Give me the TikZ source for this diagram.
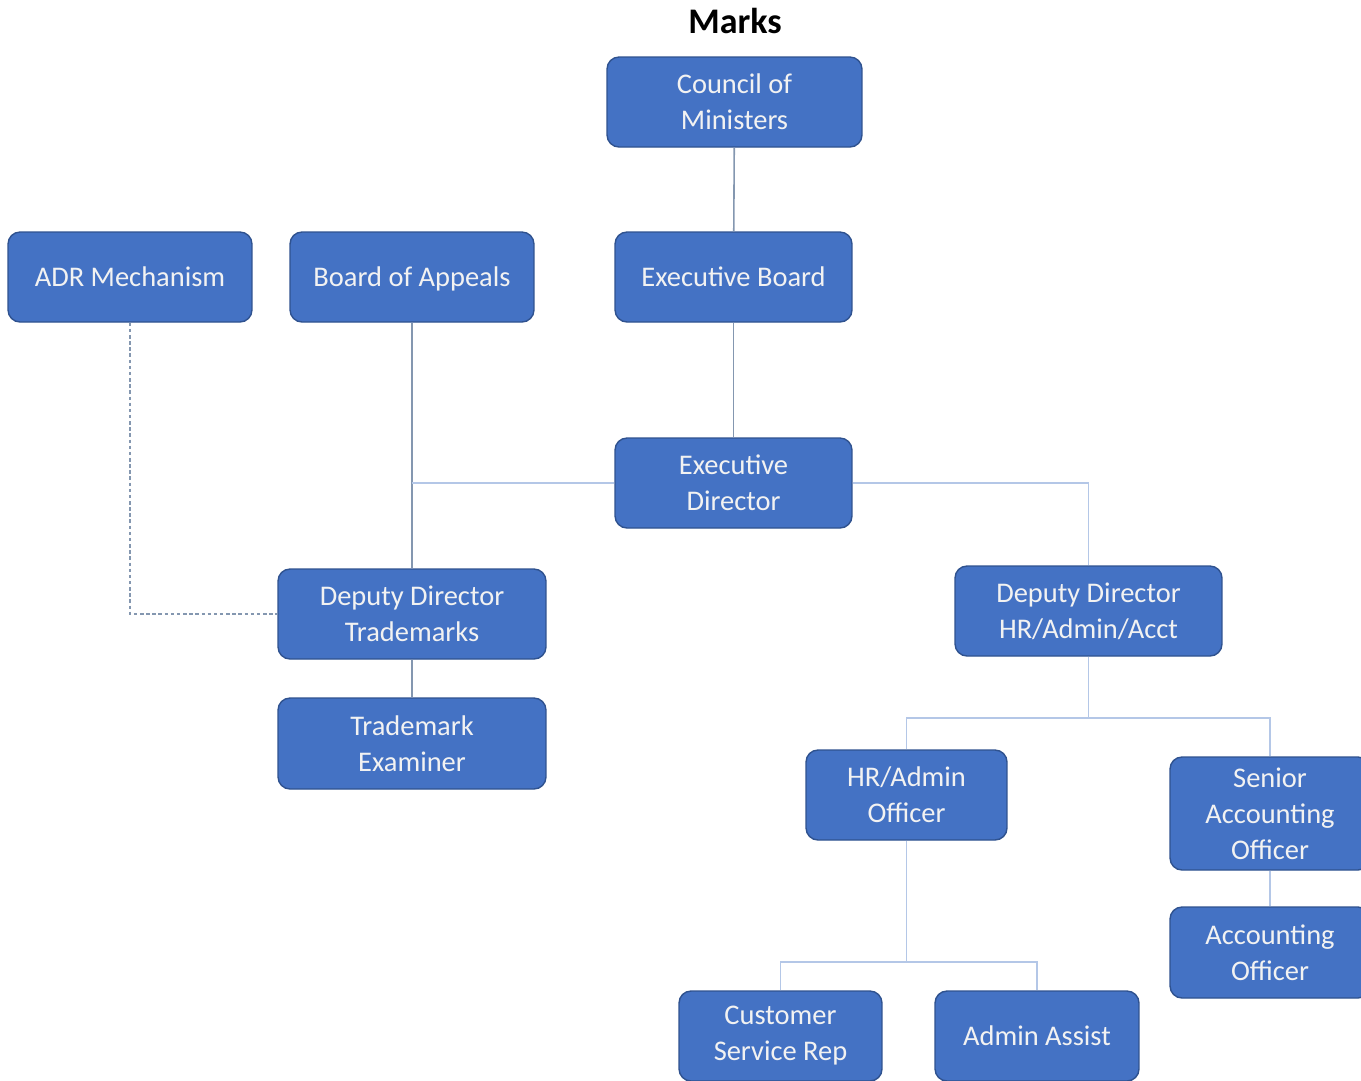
\documentclass[tikz,border=0pt]{standalone}
\usepackage{fontspec}
\setmainfont{Carlito}
\usetikzlibrary{calc}

\definecolor{boxblue}{HTML}{4472C4}
\definecolor{boxedge}{HTML}{2F528F}
\definecolor{linedark}{HTML}{8497B0}
\definecolor{linelight}{HTML}{B4C7E7}

\begin{document}
\begin{tikzpicture}[x=0.02cm, y=-0.02cm,
    box/.style={draw=boxedge, line width=0.8pt, fill=boxblue, rounded corners=0.24cm,
      text=white!95!black, align=center, inner sep=0pt,
      font=\fontsize{16.2}{20.5}\selectfont},
    conn/.style={draw=linedark, line width=0.9pt},
    connlight/.style={draw=linelight, line width=0.9pt},
    adrlink/.style={draw=linedark, line width=0.8pt, dash pattern=on 2pt off 1.5pt}]
    \useasboundingbox (0,0) rectangle (1361,1080);

    %Titre
    \node[font=\fontsize{20.5}{24}\selectfont\bfseries] (title) at (735,21) {Marks};

    %Direction
    \node[box, minimum width=5.1cm, minimum height=1.8cm] (council) at (734.5,102) {Council of\\Ministers};
    \node[box, minimum width=4.74cm, minimum height=1.8cm] (execboard) at (733.5,277) {Executive Board};
    \node[box, minimum width=4.74cm, minimum height=1.8cm] (execdir) at (733.5,483) {Executive\\Director};
    \node[box, minimum width=4.88cm, minimum height=1.8cm] (adr) at (130,277) {ADR Mechanism};
    \node[box, minimum width=4.88cm, minimum height=1.8cm, text depth=0pt] (appeals) at (412,277) {Board of Appeals};

    %Trademarks
    \node[box, minimum width=5.36cm, minimum height=1.8cm] (ddtm) at (412,614) {Deputy Director\\Trademarks};
    \node[box, minimum width=5.36cm, minimum height=1.82cm] (tmexam) at (412,743.5) {Trademark\\Examiner};

    %HR/Admin/Acct
    \node[box, minimum width=5.34cm, minimum height=1.8cm] (ddhr) at (1088.5,611) {Deputy Director\\HR/Admin/Acct};
    \node[box, minimum width=4.02cm, minimum height=1.8cm] (hradmin) at (906.5,795) {HR/Admin\\Officer};
    \node[box, minimum width=4.0cm, minimum height=2.26cm] (senacc) at (1270,813.5) {Senior\\Accounting\\Officer};
    \node[box, minimum width=4.0cm, minimum height=1.82cm] (accoff) at (1270,952.5) {Accounting\\Officer};
    \node[box, minimum width=4.06cm, minimum height=1.8cm] (csr) at (780.5,1036) {Customer\\Service Rep};
    \node[box, minimum width=4.08cm, minimum height=1.8cm] (admin) at (1037,1036) {Admin Assist};

    %Liens
    \draw[conn] (council) -- (execboard);
    \draw[conn] (execboard) -- (execdir);
    \draw[conn] (appeals) -- (ddtm);
    \draw[connlight] (execdir.west) -- (execdir.west -| appeals.south);
    \draw[connlight] (execdir.east) -| (ddhr.north);
    \draw[conn] (ddtm) -- (tmexam);
    \draw[adrlink] (adr.south) |- (ddtm.west);

    \coordinate (hrsplit) at (1088.5,718);
    \draw[connlight] (ddhr.south) -- (hrsplit);
    \draw[connlight] (hradmin.north) |- (hrsplit) -| (senacc.north);
    \draw[connlight] (senacc) -- (accoff);

    \coordinate (offsplit) at (906.5,962);
    \draw[connlight] (hradmin.south) -- (offsplit);
    \draw[connlight] (csr.north) |- (offsplit) -| (admin.north);
  \end{tikzpicture}
\end{document}
